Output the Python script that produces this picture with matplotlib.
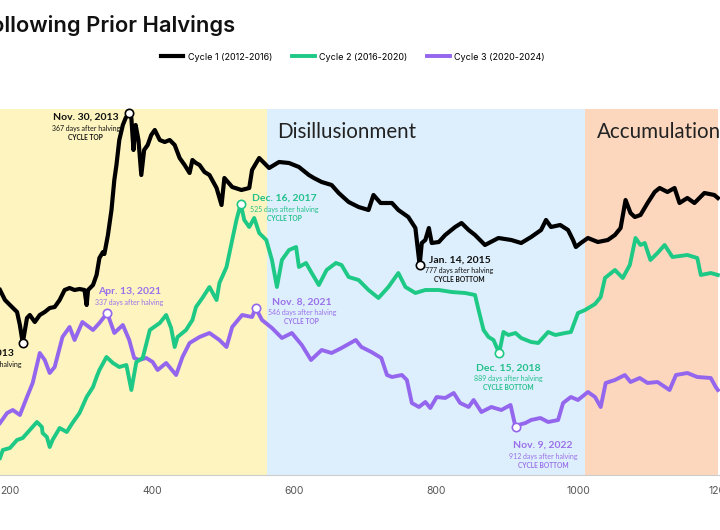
import matplotlib
matplotlib.use("Agg")
import matplotlib.pyplot as plt

# ---------------- data (days after halving, price index) ----------------
c1_days = [186, 193, 200, 210, 214, 218, 224, 228, 235, 242, 249, 256, 263, 270, 277, 284, 291, 298, 305, 308,
           310, 317, 322, 326, 331, 333, 338, 343, 347, 350, 354, 359, 363, 367, 371, 374, 377, 381, 385, 389,
           394, 399, 404, 411, 418, 425, 432, 439, 446, 453, 457, 462, 467, 474, 481, 491, 498, 502, 513, 526,
           537, 541, 551, 558, 565, 579, 593, 607, 621, 628, 639, 653, 663, 677, 691, 705, 712, 722, 738, 747,
           761, 771, 777, 780, 785, 790, 794, 804, 813, 827, 836, 846, 855, 869, 888, 906, 920, 934, 948, 955,
           962, 975, 986, 993, 997, 1004, 1014, 1028, 1042, 1052, 1060, 1067, 1074, 1080, 1088, 1098, 1108,
           1115, 1126, 1136, 1143, 1154, 1164, 1178, 1192, 1197]
c1_vals = [185, 175, 170, 163, 150, 132, 157, 160, 153, 160, 163, 167, 168, 175, 185, 187, 185, 186, 185, 170,
           185, 190, 200, 217, 223, 221, 240, 265, 295, 310, 335, 350, 357, 362, 357, 325, 350, 335, 300, 325,
           330, 340, 345, 335, 333, 335, 330, 317, 310, 302, 315, 312, 310, 303, 300, 287, 270, 297, 288, 285,
           287, 305, 317, 312, 307, 313, 312, 308, 300, 297, 293, 290, 282, 273, 268, 265, 280, 272, 272, 265,
           258, 247, 210, 232, 235, 247, 232, 233, 240, 248, 252, 245, 240, 230, 237, 235, 232, 238, 245, 255,
           248, 250, 245, 235, 228, 232, 237, 233, 235, 240, 247, 275, 262, 258, 260, 272, 283,
           287, 283, 287, 272, 277, 272, 282, 280, 277]

c2_days = [186, 190, 200, 210, 218, 228, 238, 245, 246, 252, 256, 260, 270, 280, 288, 298, 308, 317, 322, 326,
           336, 345, 354, 364, 371, 378, 387, 397, 411, 420, 427, 432, 436, 448, 457, 462, 471, 481, 491, 495,
           505, 513, 519, 525, 530, 537, 544, 551, 561, 569, 576, 583, 593, 603, 607, 617, 625, 635, 646, 659,
           667, 677, 691, 705, 719, 733, 747, 757, 771, 785, 804, 822, 841, 855, 860, 867, 874, 881, 889, 895,
           902, 912, 920, 934, 944, 958, 968, 982, 990, 1000, 1010, 1024, 1032, 1038, 1052, 1063, 1073, 1081,
           1088, 1094, 1102, 1112, 1122, 1133, 1154, 1168, 1173, 1187, 1197]
c2_vals = [17, 25, 27, 35, 37, 45, 53, 48, 42, 38, 28, 35, 47, 43, 52, 62, 78, 88, 98, 105,
           118, 112, 108, 110, 85, 113, 117, 145, 152, 160, 147, 128, 138, 145, 155, 168, 177, 188, 175, 192,
           208, 235, 255, 271, 255, 248, 257, 242, 235, 215, 188, 215, 225, 228, 208, 212, 202, 190, 205, 212,
           210, 198, 195, 185, 177, 188, 202, 188, 182, 185, 185, 183, 182, 180, 165, 145, 138, 135, 122, 143,
           140, 142, 137, 133, 132, 143, 140, 142, 143, 162, 165, 171, 178, 197, 205, 197, 210, 237,
           230, 232, 215, 222, 230, 218, 220, 217, 200, 202, 200]

c3_days = [186, 196, 204, 214, 224, 232, 242, 249, 256, 263, 274, 284, 291, 302, 317, 326, 337, 347, 359, 368,
           375, 382, 392, 401, 408, 420, 434, 443, 453, 467, 481, 495, 505, 513, 527, 541, 546, 555, 569, 583,
           597, 611, 624, 639, 653, 667, 687, 695, 709, 723, 731, 738, 752, 759, 766, 776, 785, 792, 801, 813,
           825, 834, 846, 853, 864, 878, 892, 905, 912, 916, 926, 934, 947, 958, 972, 979, 990, 1000, 1014,
           1024, 1032, 1039, 1052, 1066, 1074, 1087, 1098, 1112, 1129, 1138, 1154, 1168, 1187, 1194, 1197]
c3_vals = [52, 62, 65, 60, 78, 92, 122, 115, 102, 108, 138, 148, 135, 153, 145, 152, 162, 142, 150, 135,
           117, 115, 117, 113, 105, 112, 100, 118, 132, 138, 142, 135, 128, 148, 160, 158, 167, 155, 147, 137,
           142, 130, 115, 125, 122, 127, 135, 128, 123, 117, 100, 98, 100, 95, 72, 68, 73, 67, 78, 77,
           82, 72, 68, 75, 63, 68, 65, 70, 48, 50, 52, 55, 57, 53, 55, 72, 78, 75, 83,
           78, 68, 92, 95, 100, 93, 97, 92, 93, 85, 100, 102, 98, 97, 88, 85]

series_labels = ["Cycle 1 (2012-2016)", "Cycle 2 (2016-2020)", "Cycle 3 (2020-2024)"]
phase_names = ["Disillusionment", "Accumulation"]
phase_bounds = [186, 562, 1010, 1197]
x_ticks = [200, 400, 600, 800, 1000, 1200]

# annotated extremes: (series index, day, value, date, days text, tag)
peaks = [
    (0, 367, 362, "Nov. 30, 2013", "367 days after halving", "CYCLE TOP"),
    (0, 219, 132, "Jul. 5, 2013", "219 days after halving", ""),
    (0, 777, 210, "Jan. 14, 2015", "777 days after halving", "CYCLE BOTTOM"),
    (1, 525, 271, "Dec. 16, 2017", "525 days after halving", "CYCLE TOP"),
    (1, 889, 122, "Dec. 15, 2018", "889 days after halving", "CYCLE BOTTOM"),
    (2, 337, 162, "Apr. 13, 2021", "337 days after halving", ""),
    (2, 546, 167, "Nov. 8, 2021", "546 days after halving", "CYCLE TOP"),
    (2, 912, 48, "Nov. 9, 2022", "912 days after halving", "CYCLE BOTTOM"),
]
# label anchor (day, value of first line)
label_pos = [(307, 358), (168, 122), (833, 215), (587, 277), (902, 107), (368, 183), (611, 173), (951, 30)]

# ---------------- style ----------------
line_colors = ["#000000", "#1ec986", "#9466ee"]
text_colors = ["#111111", "#22c08a", "#9a70ea"]
phase_colors = ["#fdf4c0", "#ddeffc", "#fcd7be"]
FONT = "Lato"

fig = plt.figure(figsize=(7.2, 5.3), dpi=100)
ax = fig.add_axes([0, 55 / 530, 1, 366 / 530])
ax.set_xlim(phase_bounds[0], phase_bounds[-1])
ax.set_ylim(0, 366)

for i in range(3):
    ax.axvspan(phase_bounds[i], phase_bounds[i + 1], color=phase_colors[i], lw=0, zorder=0)

handles = []
for days, vals, col, lab, z, lw in [(c1_days, c1_vals, line_colors[0], series_labels[0], 5, 3.0),
                                    (c2_days, c2_vals, line_colors[1], series_labels[1], 4, 2.8),
                                    (c3_days, c3_vals, line_colors[2], series_labels[2], 3, 2.8)]:
    h, = ax.plot(days, vals, color=col, lw=lw, label=lab, zorder=z, solid_joinstyle="round")
    handles.append(h)

for (si, d, v, date, dtxt, tag), (lx, ly) in zip(peaks, label_pos):
    ax.plot([d], [v], marker="o", ms=6, mfc="white", mec=line_colors[si], mew=1.2, zorder=10, clip_on=False)
    tc = text_colors[si]
    ax.text(lx, ly, date, ha="center", va="center", fontsize=7.5, fontweight="bold", color=tc, family=FONT, zorder=11)
    ax.text(lx, ly - 11, dtxt, ha="center", va="center", fontsize=5.0, color=tc, family=FONT, zorder=11)
    if tag:
        ax.text(lx, ly - 20, tag, ha="center", va="center", fontsize=4.8, fontweight="bold", color=tc, family=FONT, zorder=11)

ax.text(phase_bounds[1] + 14, 343, phase_names[0], ha="left", va="center", fontsize=14.8, color="#222222", family=FONT)
ax.text(phase_bounds[2] + 16, 343, phase_names[1], ha="left", va="center", fontsize=14.8, color="#222222", family=FONT)

for s in ["top", "left", "right"]:
    ax.spines[s].set_visible(False)
ax.spines["bottom"].set_color("#cccccc")
ax.spines["bottom"].set_linewidth(0.8)
ax.set_yticks([])
ax.set_xticks(x_ticks)
ax.set_xticklabels([str(t) for t in x_ticks], fontsize=7.5, color="#555555", family="Inter")
ax.tick_params(axis="x", length=0, pad=8)

fig.legend(handles=handles, loc="center", bbox_to_anchor=(353 / 720, 1 - 57 / 530), ncol=3, frameon=False,
           prop={"family": "Inter", "size": 6.5}, handlelength=2.5, handletextpad=0.5, columnspacing=2.2)

fig.text(235 / 720, 1 - 25 / 530, "Following Prior Halvings", ha="right", va="center", fontsize=15.8,
         fontweight="semibold", family="Inter", color="#111111")

fig.savefig("out.png", dpi=100)
